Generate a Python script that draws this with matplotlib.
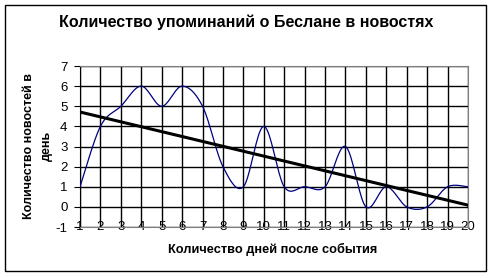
import matplotlib.pyplot as plt
import numpy as np
from matplotlib.patches import Rectangle

plt.rcParams['font.family'] = ['Liberation Sans', 'DejaVu Sans']
plt.rcParams['axes.unicode_minus'] = False

days = np.arange(1, 21)
mentions = [1, 4, 5, 6, 5, 6, 5, 2, 1, 4, 1, 1, 1, 3, 0, 1, 0, 0, 1, 1]
title = 'Количество упоминаний о Беслане в новостях'
xlabel = 'Количество дней после события'
ylabel = 'Количество новостей в\nдень'


def smooth(x, y, n=20):
    # catmull-rom, close to the excel "smoothed line"
    x = np.asarray(x, float)
    y = np.asarray(y, float)
    px = np.concatenate([[x[0]], x, [x[-1]]])
    py = np.concatenate([[y[0]], y, [y[-1]]])
    xs, ys = [], []
    t = np.linspace(0, 1, n)
    for i in range(1, len(px) - 2):
        p0, p1, p2, p3 = [np.array([px[j], py[j]]) for j in range(i - 1, i + 3)]
        b1 = p1 + (p2 - p0) / 6
        b2 = p2 - (p3 - p1) / 6
        pts = ((1 - t) ** 3)[:, None] * p1 + (3 * (1 - t) ** 2 * t)[:, None] * b1 \
            + (3 * (1 - t) * t ** 2)[:, None] * b2 + (t ** 3)[:, None] * p2
        xs.extend(pts[:, 0])
        ys.extend(pts[:, 1])
    return np.array(xs), np.array(ys)


fig = plt.figure(figsize=(4.93, 2.78), dpi=100)
fig.patches.append(Rectangle((5 / 493, 1 - 271 / 278), 481 / 493, 266 / 278,
                             transform=fig.transFigure, fill=False,
                             edgecolor='black', linewidth=1))

ax = fig.add_axes([80 / 493, 51 / 278, 388 / 493, 161 / 278])
ax.set_xlim(1, 20)
ax.set_ylim(-1, 7)
ax.set_xticks(days)
ax.set_yticks(range(-1, 8))
ax.grid(True, color='black', linewidth=1)
ax.set_axisbelow(True)

sx, sy = smooth(days, mentions)
ax.plot(sx, sy, color='#000080', linewidth=0.9, zorder=3)

k, b = np.polyfit(days, mentions, 1)
ax.plot(days, k * days + b, color='black', linewidth=2.2, zorder=4)

for s in ['top', 'right', 'bottom']:
    ax.spines[s].set_color('#808080')
ax.spines['left'].set_color('black')
ax.tick_params(axis='x', length=0, pad=0, labelsize=9.5)
ax.tick_params(axis='y', length=4, labelsize=9.5, pad=5)
for lbl in ax.get_xticklabels():
    lbl.set_verticalalignment('center')

fig.text(246 / 493, 1 - 22 / 278, title, ha='center', va='center',
         fontsize=11.5, fontweight='bold')
fig.text(273 / 493, 1 - 249 / 278, xlabel, ha='center', va='center',
         fontsize=9.2, fontweight='bold')
fig.text(38 / 493, 1 - 146 / 278, ylabel, ha='center', va='center',
         fontsize=9, fontweight='bold', rotation=90, linespacing=1.6)

fig.savefig('out.png', dpi=100)
